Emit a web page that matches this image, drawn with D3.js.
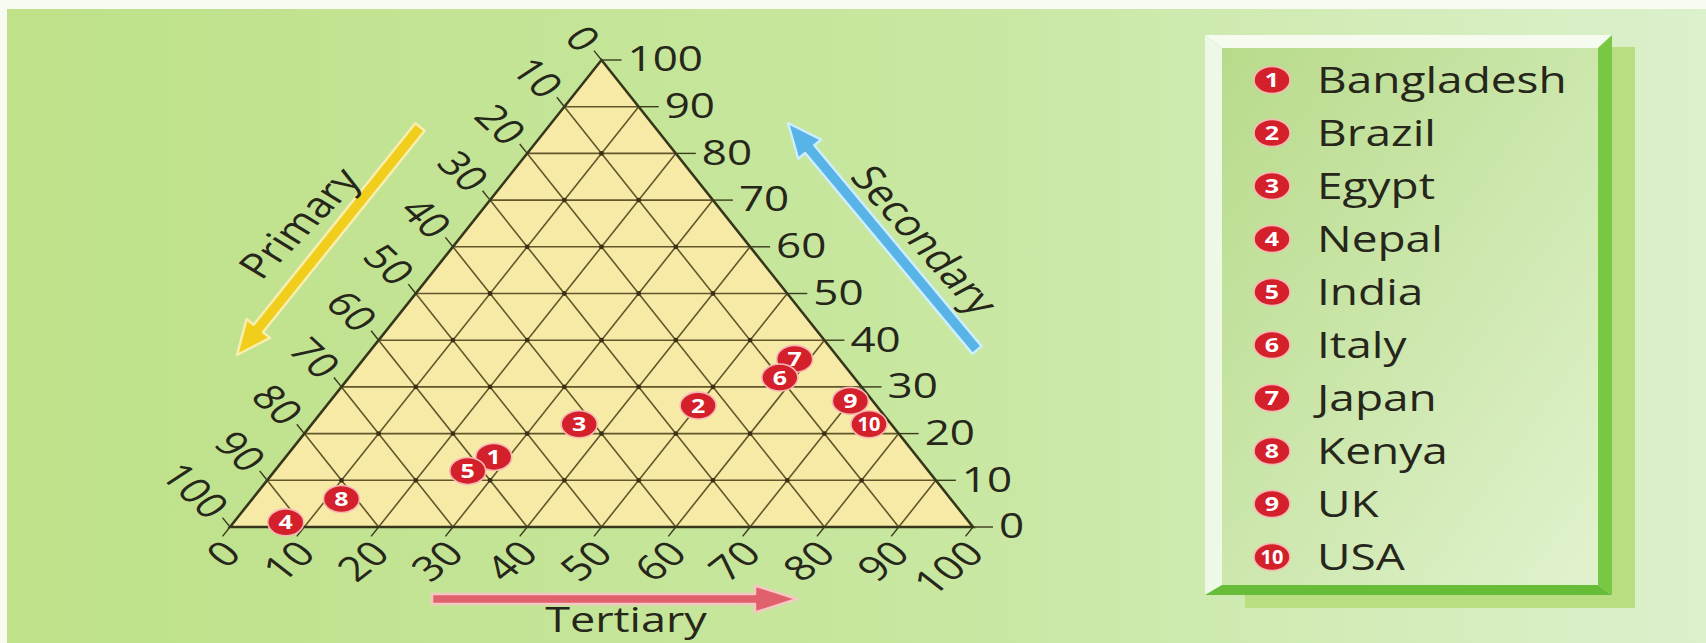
<!DOCTYPE html>
<html>
<head>
<meta charset="utf-8">
<script src="https://cdn.jsdelivr.net/npm/d3@7"></script>
<style>
body { margin: 0; overflow: hidden; background: #fff; }
text { font-family: "Open Sans", sans-serif; }
</style>
</head>
<body>
<script>
// data (percent of workforce)
let countries = ["Bangladesh", "Brazil", "Egypt", "Nepal", "India", "Italy", "Japan", "Kenya", "UK", "USA"];
let primary   = [57, 24, 42, 92, 62, 10, 6, 82, 3, 3];
let secondary = [15, 26, 22, 1, 12, 32, 36, 6, 27, 22];
let tertiary  = [28, 50, 36, 7, 26, 58, 58, 12, 70, 75];
let tickValues = [0, 10, 20, 30, 40, 50, 60, 70, 80, 90, 100];
let axisTitles = ["Primary", "Secondary", "Tertiary"];

let width = 1706, height = 643;
let k = 0.78; // the picture is squashed vertically, text too

let svg = d3.select("body").append("svg")
	.attr("width", width)
	.attr("height", height);

let defs = svg.append("defs");
let bg = defs.append("linearGradient").attr("id", "bg").attr("x1", 0).attr("x2", 1).attr("y1", 0).attr("y2", 0);
bg.append("stop").attr("offset", "0%").attr("stop-color", "#bee189");
bg.append("stop").attr("offset", "55%").attr("stop-color", "#c8e7a0");
bg.append("stop").attr("offset", "100%").attr("stop-color", "#dcf0cc");
let lg = defs.append("linearGradient").attr("id", "lg").attr("x1", 0).attr("x2", 1).attr("y1", 0).attr("y2", 1);
lg.append("stop").attr("offset", "0%").attr("stop-color", "#b6da88");
lg.append("stop").attr("offset", "100%").attr("stop-color", "#e2f3d0");

//background with the white strip at top and left
svg.append("rect").attr("width", width).attr("height", height).attr("fill", "#f7fbf2");
svg.append("rect").attr("x", 7).attr("y", 9).attr("width", width - 7).attr("height", height - 9).attr("fill", "url(#bg)");

//scales: tertiary along the base, secondary up the height
let xScale = d3.scaleLinear().domain([0, 100]).range([230, 973]);
let yScale = d3.scaleLinear().domain([0, 100]).range([527, 60]);
let half = (xScale(100) - xScale(0)) / 2;
function proj(s, t) {
	return [xScale(t) + half * s / 100, yScale(s)];
}

let g = svg.append("g");

//triangle
let corners = [proj(0, 0), proj(100, 0), proj(0, 100)];
g.append("path")
	.attr("d", "M" + corners.join("L") + "Z")
	.attr("fill", "#f6eaa6");

//grid lines, 10 to 90 for every family
let inner = tickValues.filter(v => v > 0 && v < 100);
let line = d3.line();
let grid = g.append("g").attr("stroke", "#62562a").attr("stroke-width", 1.6).attr("fill", "none");
inner.forEach(v => {
	grid.append("path").attr("d", line([proj(v, 0), proj(v, 100 - v)])); // secondary
	grid.append("path").attr("d", line([proj(100 - v, 0), proj(0, 100 - v)])); // primary = v
	grid.append("path").attr("d", line([proj(0, v), proj(100 - v, v)])); // tertiary
});

//dots where the lines cross
let dots = [];
inner.forEach(s => inner.forEach(t => { if (s + t <= 90) dots.push(proj(s, t)); }));
g.selectAll(".dot").data(dots).enter().append("circle")
	.attr("cx", d => d[0]).attr("cy", d => d[1]).attr("r", 2.4).attr("fill", "#3a3016");

//edges
g.append("path")
	.attr("d", "M" + corners.join("L") + "Z")
	.attr("fill", "none").attr("stroke", "#36361a").attr("stroke-width", 2.6).attr("stroke-linejoin", "miter");

function label(x, y, rot, txt, anchor, size) {
	return g.append("text")
		.attr("transform", `translate(${x},${y}) scale(1,${k}) rotate(${rot})`)
		.attr("text-anchor", anchor)
		.attr("dy", "0.36em")
		.attr("font-size", size)
		.attr("fill", "#26261a")
		.text(txt);
}

let ticksG = g.append("g").attr("stroke", "#3a3a1c").attr("stroke-width", 1.4);

//secondary axis on the right
tickValues.forEach(v => {
	let p = proj(v, 100 - v);
	ticksG.append("line").attr("x1", p[0]).attr("y1", p[1]).attr("x2", p[0] + 20).attr("y2", p[1]);
	label(p[0] + 26, p[1] - 1, 0, v, "start", 44);
});

//primary axis on the left, 0 at the top
tickValues.forEach(v => {
	let p = proj(100 - v, 0);
	ticksG.append("line").attr("x1", p[0]).attr("y1", p[1]).attr("x2", p[0] - 7.5).attr("y2", p[1] - 9.4);
	label(p[0] - 10.5, p[1] - 14, 50, v, "end", 44);
});

//tertiary axis along the base
tickValues.forEach(v => {
	let p = proj(0, v);
	ticksG.append("line").attr("x1", p[0]).attr("y1", p[1]).attr("x2", p[0] - 7.5).attr("y2", p[1] + 9.4);
	label(p[0] + 2, p[1] + 20, -45, v, "end", 44);
});

//arrows
function arrow(x1, y1, x2, y2, shaft, headW, headL, color, edge) {
	let dx = x2 - x1, dy = y2 - y1, len = Math.hypot(dx, dy);
	let ux = dx / len, uy = dy / len, nx = -uy, ny = ux;
	let bx = x2 - ux * headL, by = y2 - uy * headL;
	let pts = [
		[x1 + nx * shaft / 2, y1 + ny * shaft / 2],
		[bx + nx * shaft / 2, by + ny * shaft / 2],
		[bx + nx * headW / 2, by + ny * headW / 2],
		[x2, y2],
		[bx - nx * headW / 2, by - ny * headW / 2],
		[bx - nx * shaft / 2, by - ny * shaft / 2],
		[x1 - nx * shaft / 2, y1 - ny * shaft / 2]
	];
	g.append("path")
		.attr("d", "M" + pts.join("L") + "Z")
		.attr("fill", color).attr("stroke", edge).attr("stroke-width", 2.5).attr("stroke-linejoin", "round");
}
arrow(420, 127, 237, 355, 12, 30, 34, "#f1cd1c", "#f8eeb0");
arrow(977, 350, 788, 123, 12, 30, 34, "#58b3e6", "#cdeefc");
arrow(432, 599, 797, 599, 10, 27, 42, "#e0606c", "#f6c8c4");

//axis titles
label(299, 223, -52, axisTitles[0], "middle", 45);
label(925, 240, 55, axisTitles[1], "middle", 45);
label(626, 619, 0, axisTitles[2], "middle", 45);

//markers
function marker(sel, x, y, n) {
	let m = sel.append("g").attr("transform", `translate(${x},${y})`);
	m.append("ellipse").attr("rx", 18).attr("ry", 13.5)
		.attr("fill", "#d3202a").attr("stroke", "#f6b8b4").attr("stroke-width", 1.6);
	m.append("text")
		.attr("transform", `scale(${n > 9 ? 0.8 : 1},${k})`)
		.attr("text-anchor", "middle").attr("dy", "0.36em")
		.attr("font-size", 25).attr("font-weight", "bold").attr("fill", "#fff")
		.text(n);
}

let points = countries.map((c, i) => ({ n: i + 1, p: primary[i], s: secondary[i], t: tertiary[i] }))
	.sort((a, b) => b.s - a.s);
let markG = g.append("g");
points.forEach(d => {
	let xy = proj(d.s, d.t);
	marker(markG, xy[0], xy[1], d.n);
});

//legend box with bevel and a soft shadow
let L = { x0: 1205, y0: 35, x1: 1612, y1: 595 };
g.append("rect").attr("x", L.x0 + 40).attr("y", L.y0 + 12).attr("width", L.x1 - L.x0 - 17).attr("height", L.y1 - L.y0 + 1)
	.attr("fill", "#b9de82");
g.append("rect").attr("x", L.x0).attr("y", L.y0).attr("width", L.x1 - L.x0).attr("height", L.y1 - L.y0)
	.attr("fill", "url(#lg)");
g.append("path").attr("d", line([[L.x0, L.y0], [L.x1, L.y0], [L.x1 - 14, L.y0 + 13], [L.x0 + 17, L.y0 + 13]])).attr("fill", "#f5fbef");
g.append("path").attr("d", line([[L.x0, L.y0], [L.x0 + 17, L.y0 + 13], [L.x0 + 17, L.y1 - 10], [L.x0, L.y1]])).attr("fill", "#eef8e6");
g.append("path").attr("d", line([[L.x1, L.y0], [L.x1, L.y1], [L.x1 - 14, L.y1 - 10], [L.x1 - 14, L.y0 + 13]])).attr("fill", "#79c844");
g.append("path").attr("d", line([[L.x0, L.y1], [L.x1, L.y1], [L.x1 - 14, L.y1 - 10], [L.x0 + 17, L.y1 - 10]])).attr("fill", "#68bd38");

let legendY = d3.scalePoint().domain(countries).range([80, 557]);
countries.forEach((c, i) => {
	marker(g, 1272, legendY(c), i + 1);
	label(1317, legendY(c), 0, c, "start", 46);
});
</script>
</body>
</html>
